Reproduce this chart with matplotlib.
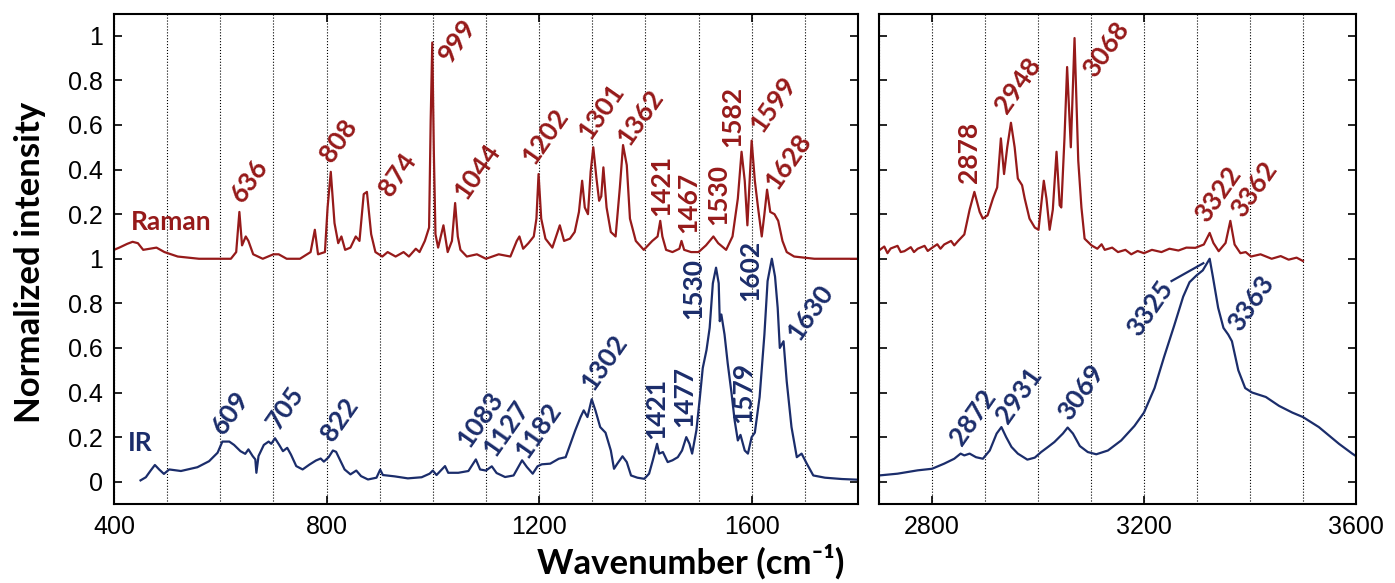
import matplotlib.pyplot as plt
from matplotlib.ticker import MultipleLocator

# Raman spectrum (normalized), fingerprint region
raman_low_x = [400, 410, 425, 435, 445, 455, 480, 495, 520, 560, 600, 620, 630, 636, 641, 648, 653,
               662, 680, 700, 710, 725, 750, 770, 778, 784, 797, 802, 808, 815, 822, 828, 835, 845,
               855, 862, 870, 876, 884, 892, 905, 915, 930, 945, 955, 968, 975, 985, 993, 996, 999,
               1002, 1005, 1010, 1014, 1020, 1024, 1028, 1036, 1042, 1047, 1052, 1064, 1083, 1100,
               1124, 1146, 1158, 1163, 1170, 1180, 1190, 1195, 1199, 1204, 1212, 1225, 1239, 1247,
               1258, 1267, 1275, 1281, 1286, 1292, 1297, 1302, 1308, 1313, 1317, 1321, 1327, 1335,
               1344, 1352, 1358, 1365, 1371, 1382, 1397, 1413, 1423, 1428, 1432, 1439, 1451, 1464,
               1468, 1473, 1486, 1500, 1514, 1528, 1537, 1552, 1564, 1574, 1581, 1587, 1592, 1600,
               1606, 1612, 1619, 1624, 1629, 1635, 1643, 1650, 1658, 1666, 1680, 1718, 1760, 1800]
raman_low_y = [0.04, 0.05, 0.067, 0.076, 0.07, 0.04, 0.05, 0.03, 0.01, 0.0, 0.0, 0.0, 0.03, 0.21, 0.06,
               0.10, 0.08, 0.02, 0.0, 0.02, 0.02, 0.0, 0.0, 0.03, 0.13, 0.02, 0.03, 0.23, 0.39, 0.16,
               0.07, 0.10, 0.04, 0.05, 0.10, 0.08, 0.29, 0.30, 0.11, 0.03, 0.01, 0.03, 0.01, 0.03,
               0.01, 0.045, 0.03, 0.08, 0.14, 0.62, 0.97, 0.47, 0.11, 0.05, 0.09, 0.15, 0.09, 0.03,
               0.08, 0.25, 0.10, 0.04, 0.01, 0.02, 0.0, 0.02, 0.01, 0.08, 0.10, 0.045, 0.07, 0.10,
               0.18, 0.38, 0.18, 0.09, 0.05, 0.15, 0.08, 0.09, 0.12, 0.21, 0.35, 0.23, 0.20, 0.39,
               0.50, 0.36, 0.26, 0.28, 0.41, 0.23, 0.12, 0.10, 0.32, 0.51, 0.42, 0.18, 0.08, 0.04,
               0.08, 0.10, 0.17, 0.10, 0.04, 0.03, 0.045, 0.08, 0.04, 0.03, 0.03, 0.06, 0.10, 0.07,
               0.04, 0.10, 0.27, 0.48, 0.35, 0.15, 0.53, 0.35, 0.23, 0.10, 0.20, 0.31, 0.21, 0.20,
               0.17, 0.08, 0.03, 0.01, 0.0, 0.0, 0.0]

# Raman spectrum (normalized), C-H / N-H stretching region
raman_high_x = [2700, 2710, 2716, 2722, 2735, 2741, 2748, 2760, 2766, 2773, 2786, 2792, 2800, 2810,
                2816, 2823, 2836, 2842, 2849, 2861, 2871, 2880, 2890, 2896, 2905, 2915, 2923, 2930,
                2936, 2942, 2949, 2956, 2962, 2970, 2975, 2984, 2994, 3001, 3011, 3016, 3022, 3028,
                3035, 3041, 3044, 3050, 3055, 3062, 3069, 3076, 3082, 3088, 3101, 3112, 3120, 3126,
                3140, 3151, 3165, 3176, 3188, 3200, 3215, 3233, 3248, 3265, 3280, 3297, 3313, 3324,
                3331, 3341, 3354, 3363, 3371, 3382, 3392, 3402, 3420, 3441, 3458, 3473, 3488, 3500]
raman_high_y = [0.037, 0.055, 0.025, 0.046, 0.058, 0.030, 0.034, 0.052, 0.030, 0.045, 0.058, 0.035,
                0.049, 0.065, 0.045, 0.064, 0.080, 0.060, 0.079, 0.109, 0.22, 0.30, 0.21, 0.18, 0.195,
                0.27, 0.32, 0.54, 0.38, 0.50, 0.61, 0.50, 0.36, 0.33, 0.27, 0.18, 0.14, 0.13, 0.35,
                0.27, 0.13, 0.22, 0.48, 0.24, 0.23, 0.54, 0.86, 0.50, 0.99, 0.44, 0.23, 0.09, 0.06,
                0.045, 0.065, 0.04, 0.05, 0.03, 0.04, 0.02, 0.035, 0.025, 0.04, 0.03, 0.045, 0.037,
                0.05, 0.049, 0.064, 0.116, 0.071, 0.034, 0.071, 0.17, 0.064, 0.025, 0.03, 0.01, 0.02,
                0.0, 0.012, -0.004, 0.005, -0.01]

# IR spectrum (normalized), fingerprint region
ir_low_x = [450, 460, 469, 477, 485, 494, 504, 526, 557, 579, 595, 604, 617, 626, 638, 647, 653, 661,
            666, 668, 672, 682, 691, 696, 703, 711, 718, 726, 733, 743, 755, 768, 780, 789, 795, 804,
            812, 818, 826, 834, 845, 856, 865, 878, 894, 901, 906, 928, 953, 979, 994, 1000, 1007,
            1023, 1029, 1048, 1067, 1081, 1089, 1100, 1111, 1120, 1136, 1152, 1161, 1168, 1177, 1188,
            1197, 1205, 1221, 1237, 1250, 1259, 1268, 1278, 1284, 1291, 1299, 1306, 1315, 1325, 1335,
            1341, 1347, 1357, 1365, 1373, 1385, 1398, 1407, 1414, 1422, 1426, 1433, 1442, 1451, 1461,
            1469, 1477, 1483, 1488, 1496, 1502, 1508, 1515, 1521, 1527, 1533, 1538, 1540, 1543, 1549,
            1555, 1562, 1568, 1574, 1579, 1587, 1593, 1600, 1606, 1615, 1624, 1630, 1638, 1644, 1649,
            1653, 1660, 1666, 1675, 1685, 1694, 1704, 1716, 1738, 1770, 1800]
ir_low_y = [0.006, 0.02, 0.05, 0.075, 0.055, 0.035, 0.055, 0.048, 0.065, 0.092, 0.13, 0.18, 0.18, 0.165,
            0.137, 0.125, 0.145, 0.115, 0.10, 0.04, 0.115, 0.165, 0.18, 0.17, 0.195, 0.165, 0.137,
            0.152, 0.122, 0.07, 0.055, 0.077, 0.095, 0.104, 0.09, 0.11, 0.14, 0.134, 0.095, 0.055,
            0.033, 0.05, 0.025, 0.01, 0.018, 0.054, 0.03, 0.024, 0.015, 0.02, 0.036, 0.05, 0.03,
            0.07, 0.04, 0.04, 0.048, 0.10, 0.055, 0.05, 0.069, 0.039, 0.021, 0.028, 0.066, 0.096,
            0.066, 0.036, 0.069, 0.078, 0.081, 0.103, 0.11, 0.17, 0.23, 0.29, 0.32, 0.29, 0.37, 0.32,
            0.245, 0.22, 0.14, 0.058, 0.08, 0.114, 0.088, 0.028, 0.018, 0.013, 0.036, 0.096, 0.17,
            0.126, 0.133, 0.088, 0.096, 0.11, 0.14, 0.20, 0.17, 0.126, 0.23, 0.365, 0.51, 0.59, 0.69,
            0.89, 0.96, 0.89, 0.72, 0.75, 0.66, 0.53, 0.40, 0.275, 0.185, 0.21, 0.14, 0.126, 0.20,
            0.22, 0.38, 0.66, 0.90, 1.0, 0.92, 0.78, 0.60, 0.63, 0.45, 0.245, 0.11, 0.126, 0.08,
            0.028, 0.018, 0.012, 0.009]

# IR spectrum (normalized), stretching region
ir_high_x = [2700, 2735, 2773, 2800, 2823, 2842, 2854, 2861, 2871, 2883, 2896, 2909, 2922, 2931, 2940,
             2950, 2962, 2980, 2994, 3006, 3019, 3031, 3047, 3056, 3066, 3079, 3094, 3110, 3132, 3157,
             3182, 3200, 3220, 3238, 3257, 3274, 3286, 3299, 3311, 3324, 3330, 3340, 3350, 3359, 3366,
             3378, 3391, 3404, 3430, 3455, 3480, 3500, 3530, 3568, 3593, 3600]
ir_high_y = [0.028, 0.036, 0.051, 0.058, 0.081, 0.103, 0.126, 0.118, 0.126, 0.11, 0.103, 0.14, 0.216,
             0.245, 0.20, 0.156, 0.126, 0.099, 0.108, 0.133, 0.156, 0.178, 0.216, 0.243, 0.216, 0.16,
             0.133, 0.123, 0.14, 0.185, 0.25, 0.31, 0.42, 0.56, 0.70, 0.83, 0.895, 0.925, 0.948, 1.0,
             0.92, 0.78, 0.69, 0.66, 0.63, 0.50, 0.42, 0.40, 0.38, 0.34, 0.31, 0.29, 0.245, 0.17,
             0.126, 0.115]

# peak labels: text, x, y, rotation
raman_low_peaks = [("636", 655, 0.351, 55), ("808", 823, 0.528, 55), ("874", 933, 0.375, 55),
                   ("999", 1047, 0.98, 55), ("1044", 1083, 0.393, 55), ("1202", 1212, 0.551, 55),
                   ("1301", 1316, 0.663, 55), ("1362", 1391, 0.633, 55), ("1421", 1429, 0.33, 90),
                   ("1467", 1480, 0.251, 90), ("1530", 1537, 0.288, 90), ("1582", 1564, 0.64, 90),
                   ("1599", 1640, 0.693, 55), ("1628", 1668, 0.438, 55)]
raman_high_peaks = [("2878", 2869, 0.476, 90), ("2948", 2962, 0.78, 55), ("3068", 3129, 0.94, 55),
                    ("3322", 3340, 0.29, 55), ("3362", 3407, 0.31, 55)]
ir_low_peaks = [("609", 620, 0.308, 55), ("705", 722, 0.33, 55), ("822", 825, 0.278, 55),
                ("1083", 1089, 0.278, 55), ("1127", 1139, 0.238, 55), ("1182", 1199, 0.23, 55),
                ("1302", 1322, 0.537, 55), ("1421", 1420, 0.327, 90), ("1477", 1474, 0.38, 90),
                ("1530", 1490, 0.867, 90), ("1579", 1584, 0.40, 90), ("1602", 1598, 0.95, 90),
                ("1630", 1710, 0.76, 55)]
ir_high_peaks = [("2872", 2877, 0.29, 55), ("2931", 2965, 0.387, 55), ("3069", 3082, 0.40, 55),
                 ("3325", 3211, 0.776, 55), ("3363", 3403, 0.80, 55)]

raman_offset = 1.0
raman_color = "#961a1a"
ir_color = "#1b2d6b"
label_font = ["Lato", "DejaVu Sans"]

fig = plt.figure(figsize=(13.95, 5.83), dpi=100)
ax1 = fig.add_axes([0.0817, 0.1355, 0.5333, 0.8413])
ax2 = fig.add_axes([0.6301, 0.1355, 0.3419, 0.8413])

for ax, xlim in [(ax1, (400, 1800)), (ax2, (2700, 3600))]:
    ax.set_xlim(*xlim)
    ax.set_ylim(-0.1, 2.1)
    ax.xaxis.set_major_locator(MultipleLocator(400))
    ax.xaxis.set_minor_locator(MultipleLocator(100))
    ax.grid(True, which="both", axis="x", color="black", linestyle=":", linewidth=0.8)
    ax.tick_params(which="both", direction="in", top=True, right=True, length=6, width=1.2,
                   labelsize=18, pad=8)
    ax.tick_params(which="minor", length=0)
    for sp in ax.spines.values():
        sp.set_linewidth(1.5)

ax1.set_yticks([0, 0.2, 0.4, 0.6, 0.8, 1.0, 1.2, 1.4, 1.6, 1.8, 2.0])
ax1.set_yticklabels(["0", "0.2", "0.4", "0.6", "0.8", "1", "0.2", "0.4", "0.6", "0.8", "1"])
ax2.set_yticks([0, 0.2, 0.4, 0.6, 0.8, 1.0, 1.2, 1.4, 1.6, 1.8, 2.0])
ax2.set_yticklabels([])
ax2.set_xticks([2800, 3200, 3600])
for ax in (ax1, ax2):
    for lab in ax.get_xticklabels() + ax.get_yticklabels():
        lab.set_family("Liberation Sans")

# spectra
ax1.plot(raman_low_x, [v + raman_offset for v in raman_low_y], color=raman_color, lw=1.6)
ax1.plot(ir_low_x, ir_low_y, color=ir_color, lw=1.6)
ax2.plot(raman_high_x, [v + raman_offset for v in raman_high_y], color=raman_color, lw=1.6)
ax2.plot(ir_high_x, ir_high_y, color=ir_color, lw=1.6)


def put_labels(ax, peaks, color, offset=0.0):
    for txt, x, y, rot in peaks:
        ax.text(x, y + offset, txt, color=color, rotation=rot, rotation_mode="anchor",
                ha="center", va="center", fontsize=19, fontweight="bold", family=label_font)


put_labels(ax1, raman_low_peaks, raman_color, raman_offset)
put_labels(ax2, raman_high_peaks, raman_color, raman_offset)
put_labels(ax1, ir_low_peaks, ir_color)
put_labels(ax2, ir_high_peaks, ir_color)

# leader line for the 3325 band
ax2.plot([3252, 3312], [0.90, 0.98], color=ir_color, lw=1.6)

ax1.text(508, 1.164, "Raman", color=raman_color, ha="center", va="center", fontsize=19,
         fontweight="bold", family=label_font)
ax1.text(450, 0.174, "IR", color=ir_color, ha="center", va="center", fontsize=19,
         fontweight="bold", family=label_font)

fig.text(0.0215, 0.55, "Normalized intensity", rotation=90, ha="center", va="center",
         fontsize=25, fontweight="bold", family=label_font)
fig.text(0.495, 0.036, "Wavenumber (cm\u207b\u00b9)", ha="center", va="center",
         fontsize=25, fontweight="bold", family=label_font)

fig.savefig("out.png", dpi=100)
